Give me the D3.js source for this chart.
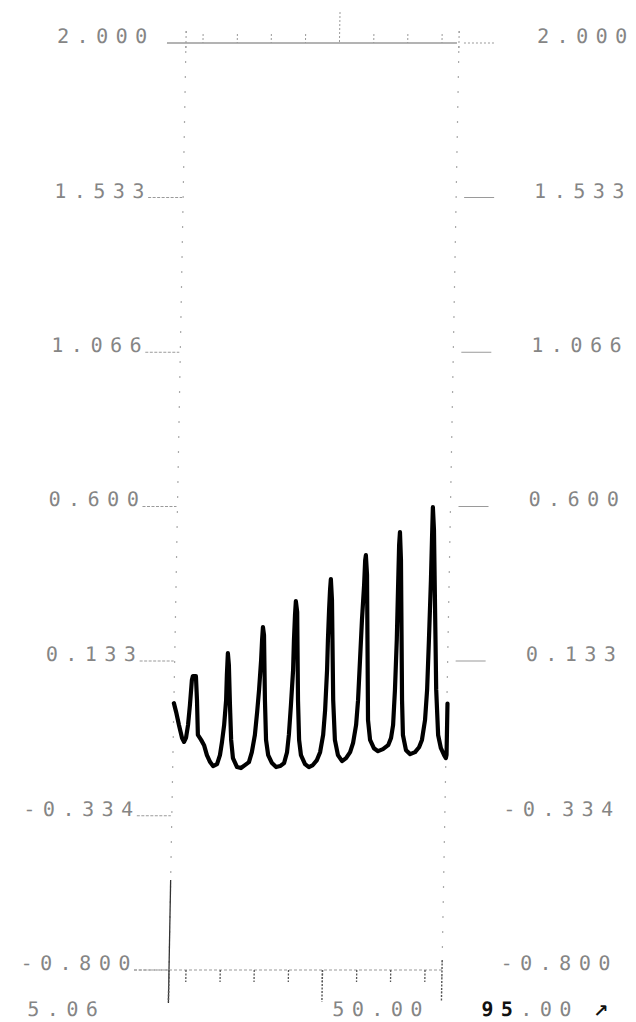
<!doctype html>
<html>
<head>
<meta charset="utf-8">
<script src="https://cdnjs.cloudflare.com/ajax/libs/d3/7.8.5/d3.min.js"></script>
<style>
  body { margin: 0; background: #fff; }
  svg { display: block; }
  .lbl { font-family: "DejaVu Sans Mono", monospace; font-size: 20px; letter-spacing: 7.5px; fill: #858585; }
</style>
</head>
<body>
<svg id="chart" width="636" height="1022"></svg>
<script>
// axis values as printed on the plot
var yTicks = [2.000, 1.533, 1.066, 0.600, 0.133, -0.334, -0.800];
var yLabels = ["2.000", "1.533", "1.066", "0.600", "0.133", "-0.334", "-0.800"];
var xTicks = [10.6, 21.9, 33.1, 44.4, 55.6, 66.9, 78.1, 89.4];
var xLongTicks = [5, 55.6, 95];
var xLabelVals = [5, 50, 95];
var xLabels = ["5.06", "50.00", "95.00"];

// recorder trace
var traceX = [5.0, 5.8, 6.8, 7.9, 8.6, 9.2, 9.8, 10.3, 10.8, 11.1, 12.1, 12.6, 13.1, 14.2, 15.2, 16.2, 17.3, 18.3, 19.6, 20.5,
  21.1, 21.7, 22.2, 22.3, 22.5, 22.9, 23.5, 24.1, 24.8, 26.2, 27.5, 28.8, 30.1, 31.0, 31.9, 32.5, 33.0, 33.5, 33.7, 33.9,
  34.3, 35.0, 35.6, 36.4, 37.7, 39.1, 40.4, 41.7, 42.6, 43.1, 43.6, 44.1, 44.2, 44.4, 44.6, 45.1, 45.9, 46.5, 47.2, 48.6,
  49.9, 51.2, 52.5, 53.5, 54.4, 54.9, 55.3, 55.4, 55.6, 55.8, 56.0, 56.5, 57.5, 58.3, 59.4, 60.8, 62.1, 63.4, 64.3, 65.2,
  65.7, 66.1, 66.5, 67.0, 67.2, 67.4, 67.9, 69.1, 69.9, 71.2, 72.6, 74.2, 75.9, 76.8, 77.4, 77.8, 78.1, 78.2, 78.3, 78.5,
  79.0, 80.2, 80.7, 81.8, 83.2, 84.8, 86.1, 87.0, 87.9, 88.4, 88.7, 89.0, 89.1, 89.2, 89.7, 91.4, 92.3, 93.3, 94.4, 95.0,
  95.2, 95.2];
var traceY = [0.006, -0.021, -0.060, -0.099, -0.111, -0.099, -0.060, 0.000, 0.076, 0.088, 0.088, 0.015, -0.090, -0.105, -0.121, -0.151, -0.172, -0.184, -0.178, -0.151,
  -0.111, -0.060, 0.015, 0.091, 0.157, 0.121, 0.000, -0.105, -0.160, -0.187, -0.190, -0.181, -0.172, -0.142, -0.090, -0.021, 0.046, 0.136, 0.197, 0.236,
  0.212, 0.015, -0.105, -0.151, -0.175, -0.187, -0.184, -0.175, -0.142, -0.090, 0.000, 0.106, 0.197, 0.272, 0.314, 0.281, 0.015, -0.105, -0.151, -0.178,
  -0.187, -0.181, -0.166, -0.142, -0.090, -0.015, 0.106, 0.197, 0.287, 0.348, 0.381, 0.317, 0.015, -0.105, -0.151, -0.169, -0.160, -0.142, -0.115, -0.060,
  0.015, 0.136, 0.257, 0.363, 0.438, 0.453, 0.393, -0.045, -0.105, -0.130, -0.139, -0.133, -0.121, -0.099, -0.060, 0.046, 0.197, 0.348, 0.484, 0.523,
  0.438, 0.015, -0.090, -0.136, -0.148, -0.142, -0.127, -0.105, -0.045, 0.046, 0.197, 0.378, 0.499, 0.598, 0.529, 0.046, -0.090, -0.130, -0.151, -0.160,
  -0.150, 0.005];

var svg = d3.select("#chart");

var x = d3.scaleLinear().domain([5, 95]).range([169, 442]);
var y = d3.scaleLinear().domain([-0.8, 2.0]).range([970, 43]);

// the scanned sheet is a little slanted: top sits ~17px right of bottom
var k = 0.0183;
var g = svg.append("g")
  .attr("transform", "matrix(1,0," + (-k) + ",1," + (k * 970) + ",0)");

var pitch = 19.5;
var grey = "#9a9a9a";

// left + right vertical axes (faint dotted)
[5, 95].forEach(function(v) {
  g.append("line")
    .attr("x1", x(v)).attr("x2", x(v))
    .attr("y1", 31).attr("y2", 1003)
    .attr("stroke", "#aaa").attr("stroke-width", 1.2)
    .attr("stroke-dasharray", "2,13");
});
// solid bit at bottom left
g.append("line")
  .attr("x1", x(5)).attr("x2", x(5))
  .attr("y1", 880).attr("y2", 1003)
  .attr("stroke", "#333").attr("stroke-width", 1.3);

// top axis
g.append("line")
  .attr("x1", 150).attr("x2", x(95) - 2)
  .attr("y1", y(2)).attr("y2", y(2))
  .attr("stroke", grey).attr("stroke-width", 1.3);
g.append("line")
  .attr("x1", x(95) + 5).attr("x2", x(95) + 36)
  .attr("y1", y(2)).attr("y2", y(2))
  .attr("stroke", grey).attr("stroke-width", 1).attr("stroke-dasharray", "2,2");
g.selectAll(".ttick").data(xTicks).enter().append("line")
  .attr("x1", function(d) { return x(d); }).attr("x2", function(d) { return x(d); })
  .attr("y1", function(d) { return d == 55.6 ? 12 : y(2) - 9; })
  .attr("y2", y(2))
  .attr("stroke", grey).attr("stroke-width", 1)
  .attr("stroke-dasharray", "2,2");
g.selectAll(".tcross").data([5, 95]).enter().append("line")
  .attr("x1", function(d) { return x(d); }).attr("x2", function(d) { return x(d); })
  .attr("y1", y(2) - 12).attr("y2", y(2) + 12)
  .attr("stroke", grey).attr("stroke-width", 1)
  .attr("stroke-dasharray", "2,3");

// bottom axis
g.append("line")
  .attr("x1", 134).attr("x2", x(95))
  .attr("y1", y(-0.8)).attr("y2", y(-0.8))
  .attr("stroke", grey).attr("stroke-width", 1).attr("stroke-dasharray", "3,2");
g.selectAll(".btick").data(xTicks).enter().append("line")
  .attr("x1", function(d) { return x(d); }).attr("x2", function(d) { return x(d); })
  .attr("y1", y(-0.8)).attr("y2", y(-0.8) + 12)
  .attr("stroke", "#555").attr("stroke-width", 1.3)
  .attr("stroke-dasharray", "2,1.5");
g.selectAll(".blong").data(xLongTicks).enter().append("line")
  .attr("x1", function(d) { return x(d); }).attr("x2", function(d) { return x(d); })
  .attr("y1", function(d) { return d == 95 ? y(-0.8) - 10 : y(-0.8); })
  .attr("y2", 1002)
  .attr("stroke", "#555").attr("stroke-width", 1.4)
  .attr("stroke-dasharray", "2,1.5");

// y tick marks: underline on the left, short dash on the right
g.selectAll(".lt").data(yTicks.slice(1)).enter().append("line")
  .attr("x1", 134).attr("x2", x(5) - 1)
  .attr("y1", function(d) { return y(d); }).attr("y2", function(d) { return y(d); })
  .attr("stroke", grey).attr("stroke-width", 1)
  .attr("stroke-dasharray", "3,1.5");
g.selectAll(".rt").data(yTicks.slice(1, 5)).enter().append("line")
  .attr("x1", x(95) + 8).attr("x2", x(95) + 38)
  .attr("y1", function(d) { return y(d); }).attr("y2", function(d) { return y(d); })
  .attr("stroke", grey).attr("stroke-width", 1);

// y labels, both sides
yTicks.forEach(function(v, i) {
  var s = yLabels[i];
  var off = s.charAt(0) == "-" ? pitch : 0;
  g.append("text").attr("class", "lbl")
    .attr("x", 40 - off).attr("y", y(v))
    .text(s);
  g.append("text").attr("class", "lbl")
    .attr("x", 520 - off).attr("y", y(v))
    .text(s);
});

// x labels (printed left, middle and right of the scale)
var xLabelPos = d3.scaleLinear().domain([5, 50, 95]).range([28, 333, 482]);
xLabelVals.forEach(function(v, i) {
  var t = g.append("text").attr("class", "lbl")
    .attr("x", xLabelPos(v)).attr("y", 1016);
  if (i == 2) {
    t.append("tspan").style("fill", "#111").style("font-weight", "bold").text(xLabels[i].slice(0, 2));
    t.append("tspan").text(xLabels[i].slice(2));
  } else {
    t.text(xLabels[i]);
  }
});
g.append("text")
  .attr("x", 594).attr("y", 1017)
  .style("font-family", "DejaVu Sans").style("font-size", "18px")
  .style("font-weight", "bold").style("fill", "#111")
  .text("\u2197");

// the trace
var pts = traceX.map(function(d, i) { return [d, traceY[i]]; });
var line = d3.line()
  .x(function(d) { return x(d[0]); })
  .y(function(d) { return y(d[1]); });

g.append("path")
  .attr("d", line(pts))
  .attr("fill", "none")
  .attr("stroke", "#000")
  .attr("stroke-width", 4.2)
  .attr("stroke-linejoin", "round")
  .attr("stroke-linecap", "round");
</script>
</body>
</html>
